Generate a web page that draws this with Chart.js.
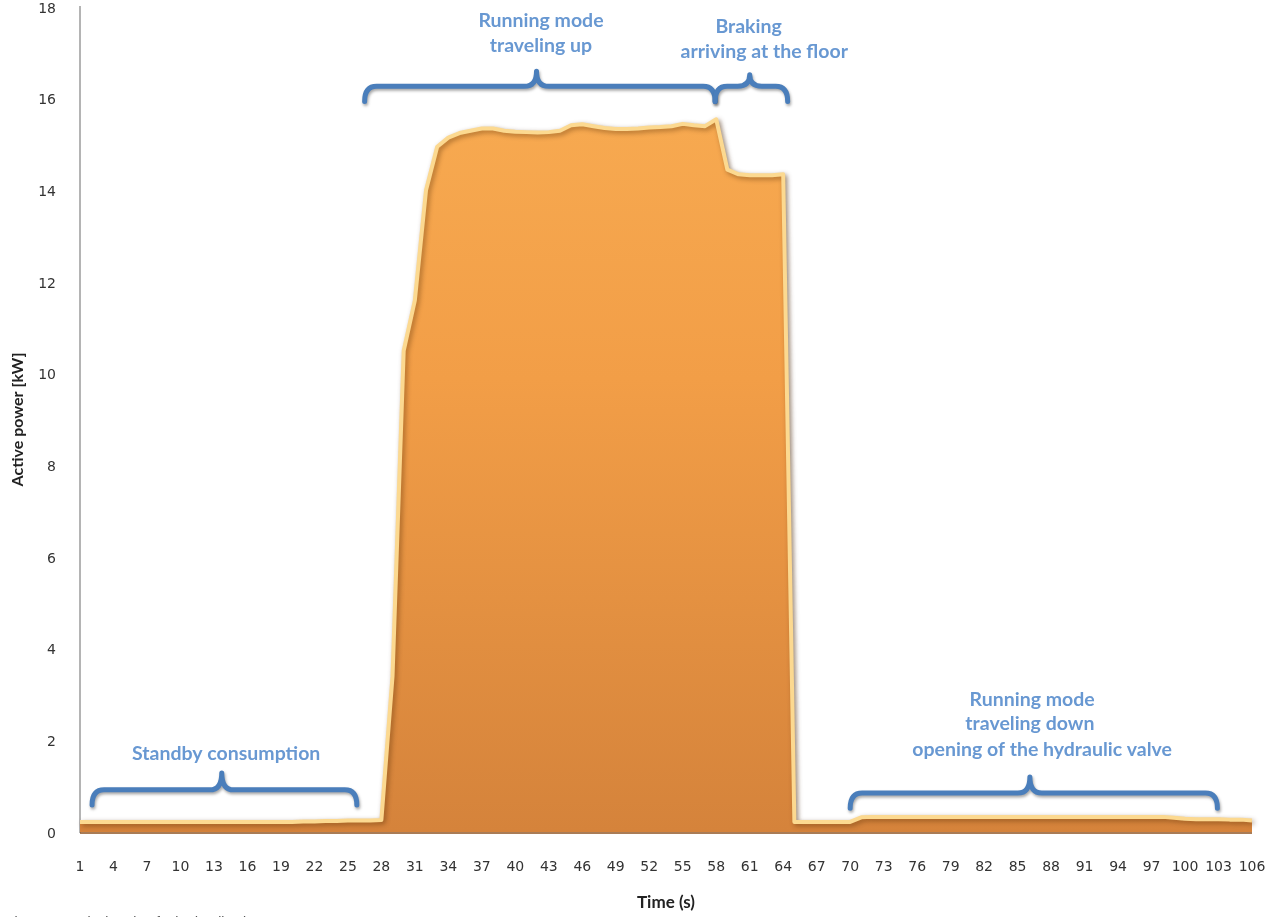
<!DOCTYPE html>
<html>
<head>
<meta charset="utf-8">
<script src="https://cdn.jsdelivr.net/npm/chart.js@4"></script>
<style>
  html, body { margin: 0; padding: 0; background: #fff; overflow: hidden; width: 1271px; height: 917px; }
  #wrap { position: absolute; left: 0; top: -12px; width: 1271px; height: 930px; }
  #caption { position: absolute; left: 6px; top: 914px; font: 14px "Liberation Sans", sans-serif; color: #555; white-space: nowrap; }
</style>
</head>
<body>
<div id="wrap"><canvas id="c" width="1271" height="930"></canvas></div>
<div id="caption">Figure 7. Typical cycle of a hydraulic elevator</div>
<script>
// Time axis (s), one sample per second
const timeLabels = [
  1, 2, 3, 4, 5, 6, 7, 8, 9, 10, 11, 12, 13, 14, 15, 16, 17, 18, 19, 20,
  21, 22, 23, 24, 25, 26, 27, 28, 29, 30, 31, 32, 33, 34, 35, 36, 37, 38, 39, 40,
  41, 42, 43, 44, 45, 46, 47, 48, 49, 50, 51, 52, 53, 54, 55, 56, 57, 58, 59, 60,
  61, 62, 63, 64, 65, 66, 67, 68, 69, 70, 71, 72, 73, 74, 75, 76, 77, 78, 79, 80,
  81, 82, 83, 84, 85, 86, 87, 88, 89, 90, 91, 92, 93, 94, 95, 96, 97, 98, 99, 100,
  101, 102, 103, 104, 105, 106
];

// Active power (kW) per second
const activePower = [
  0.22, 0.22, 0.22, 0.22, 0.22, 0.22, 0.22, 0.22, 0.22, 0.22,
  0.22, 0.22, 0.22, 0.22, 0.22, 0.22, 0.22, 0.22, 0.22, 0.22,
  0.23, 0.23, 0.24, 0.24, 0.25, 0.25, 0.25, 0.26, 3.4, 10.5,
  11.6, 14.0, 14.95, 15.15, 15.25, 15.3, 15.35, 15.35, 15.3, 15.28,
  15.27, 15.26, 15.27, 15.3, 15.42, 15.44, 15.4, 15.36, 15.34, 15.34,
  15.35, 15.37, 15.38, 15.4, 15.45, 15.42, 15.4, 15.55, 14.45, 14.35,
  14.33, 14.33, 14.33, 14.35, 0.22, 0.22, 0.22, 0.22, 0.22, 0.22,
  0.32, 0.33, 0.33, 0.33, 0.33, 0.33, 0.33, 0.33, 0.33, 0.33,
  0.33, 0.33, 0.33, 0.33, 0.33, 0.33, 0.33, 0.33, 0.33, 0.33,
  0.33, 0.33, 0.33, 0.33, 0.33, 0.33, 0.33, 0.33, 0.31, 0.29,
  0.28, 0.28, 0.28, 0.27, 0.27, 0.25
];

const yTicks = [0, 2, 4, 6, 8, 10, 12, 14, 16, 18];
const labelEvery = 3;

// Phase braces, in axis units: time from/to/tip, power at end/bar/tip
const braces = [
  { from: 2.08, to: 25.8, tip: 13.7, end: 0.59, bar: 0.92, top: 1.29 },
  { from: 26.5, to: 57.9, tip: 41.9, end: 15.94, bar: 16.27, top: 16.6 },
  { from: 57.9, to: 64.4, tip: 61.0, end: 15.94, bar: 16.27, top: 16.52 },
  { from: 70.0, to: 102.9, tip: 86.1, end: 0.52, bar: 0.85, top: 1.2 }
];

// Phase captions, in axis units
const phaseNotes = [
  { text: 'Standby consumption', t: 14.1, v: 1.70 },
  { text: 'Running mode', t: 42.3, v: 17.69 },
  { text: 'traveling up', t: 42.3, v: 17.16 },
  { text: 'Braking', t: 60.9, v: 17.58 },
  { text: 'arriving at the floor', t: 62.3, v: 17.03 },
  { text: 'Running mode', t: 86.3, v: 2.88 },
  { text: 'traveling down', t: 86.1, v: 2.36 },
  { text: 'opening of the hydraulic valve', t: 87.2, v: 1.79 }
];

const areaShadow = {
  id: 'areaShadow',
  beforeDatasetsDraw(chart) {
    const c = chart.ctx;
    c.save();
    c.shadowColor = 'rgba(70,35,0,0.45)';
    c.shadowBlur = 5;
    c.shadowOffsetX = 2;
    c.shadowOffsetY = 2;
  },
  afterDatasetsDraw(chart) {
    chart.ctx.restore();
    // darker rim along the base of the area
    const pts = chart.getDatasetMeta(0).data;
    const yb = chart.scales.y.getPixelForValue(0);
    const c = chart.ctx;
    c.save();
    c.strokeStyle = 'rgba(140,80,30,0.75)';
    c.lineWidth = 2;
    c.beginPath();
    c.moveTo(pts[0].x, yb + 1);
    c.lineTo(pts[pts.length - 1].x, yb + 1);
    c.stroke();
    c.restore();
  }
};

const phaseMarks = {
  id: 'phaseMarks',
  afterDraw(chart) {
    const c = chart.ctx;
    const xs = chart.scales.x, ys = chart.scales.y;
    const px = t => xs.getPixelForValue(t - 1);
    const py = v => ys.getPixelForValue(v);
    c.save();
    c.shadowColor = 'rgba(0,0,0,0.35)';
    c.shadowBlur = 3;
    c.shadowOffsetX = 1;
    c.shadowOffsetY = 2;
    c.strokeStyle = '#4a7ebb';
    c.lineWidth = 5;
    c.lineCap = 'round';
    c.lineJoin = 'round';
    braces.forEach(b => {
      const x1 = px(b.from), x2 = px(b.to), xm = px(b.tip);
      const yE = py(b.end), yH = py(b.bar), yT = py(b.top);
      const r = 12;
      c.beginPath();
      c.moveTo(x1, yE);
      c.quadraticCurveTo(x1, yH, x1 + r, yH);
      c.lineTo(xm - r, yH);
      c.quadraticCurveTo(xm, yH, xm, yT);
      c.quadraticCurveTo(xm, yH, xm + r, yH);
      c.lineTo(x2 - r, yH);
      c.quadraticCurveTo(x2, yH, x2, yE);
      c.stroke();
    });
    c.restore();

    c.save();
    c.fillStyle = '#6898d2';
    c.font = 'bold 19.5px Lato';
    c.textAlign = 'center';
    c.textBaseline = 'middle';
    phaseNotes.forEach(n => c.fillText(n.text, px(n.t), py(n.v)));
    c.restore();
  }
};

new Chart(document.getElementById('c'), {
  type: 'line',
  data: {
    labels: timeLabels,
    datasets: [{
      data: activePower,
      fill: 'origin',
      pointRadius: 0,
      borderWidth: 4,
      tension: 0,
      clip: 10,
      borderColor: '#fcd990',
      borderJoinStyle: 'round',
      backgroundColor: ctx => {
        const a = ctx.chart.chartArea;
        if (!a) return '#f0a04a';
        const g = ctx.chart.ctx.createLinearGradient(0, a.top, 0, a.bottom);
        g.addColorStop(0, '#f9ae54');
        g.addColorStop(0.45, '#f29e47');
        g.addColorStop(1, '#d5833b');
        return g;
      }
    }]
  },
  options: {
    responsive: false,
    animation: false,
    devicePixelRatio: 1,
    layout: { padding: { top: 19, right: 19, bottom: 0, left: 0 } },
    plugins: { legend: { display: false }, tooltip: { enabled: false } },
    scales: {
      x: {
        type: 'category',
        offset: false,
        grid: { display: false },
        border: { display: false },
        ticks: {
          autoSkip: false,
          maxRotation: 0,
          padding: 19,
          color: '#333',
          font: { family: 'DejaVu Sans', size: 14 },
          callback(value, index) { return index % labelEvery === 0 ? this.getLabelForValue(value) : ''; }
        },
        title: {
          display: true,
          text: 'Time (s)',
          color: '#222',
          font: { family: 'Lato', size: 17, weight: 'bold' },
          padding: { top: 0, bottom: 5 }
        },
        afterFit(s) { s.height = 86; s.paddingLeft = 0; s.paddingRight = 0; }
      },
      y: {
        min: 0,
        max: 18,
        grid: { display: false },
        border: { display: true, color: '#b4b4b4', width: 2 },
        afterBuildTicks(s) { s.ticks = yTicks.map(v => ({ value: v })); },
        ticks: {
          padding: 16,
          labelOffset: 2,
          color: '#333',
          font: { family: 'DejaVu Sans', size: 14 }
        },
        title: {
          display: true,
          text: 'Active power [kW]',
          color: '#222',
          font: { family: 'Lato', size: 16, weight: 'bold' },
          padding: { top: 8, bottom: 0 }
        },
        afterFit(s) { s.width = 80; s.paddingTop = 0; s.paddingBottom = 0; }
      }
    }
  },
  plugins: [areaShadow, phaseMarks]
});
</script>
</body>
</html>
